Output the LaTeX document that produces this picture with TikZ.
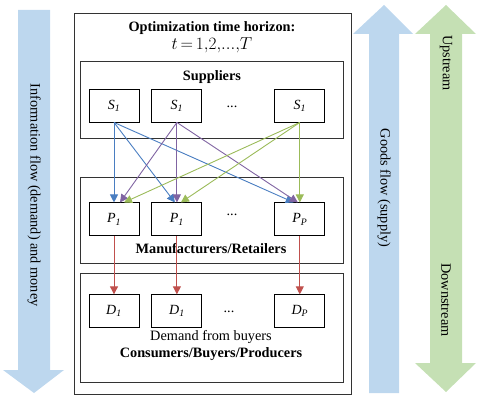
\documentclass[tikz,border=0pt]{standalone}
\usepackage{fontspec}
\setmainfont{Liberation Serif}
\usetikzlibrary{arrows.meta,positioning}

\definecolor{flowblue}{RGB}{189,215,238}
\definecolor{flowgreen}{RGB}{197,224,180}
\definecolor{lineblue}{RGB}{74,126,193}
\definecolor{linepurple}{RGB}{128,100,162}
\definecolor{linegreen}{RGB}{155,187,89}
\definecolor{linered}{RGB}{192,80,77}

\begin{document}
\begin{tikzpicture}[x=1pt, y=-1pt]
    % Styles
    \tikzstyle{unit} = [rectangle, draw, line width=0.9pt, minimum width=50pt, minimum height=33pt, inner sep=0pt, font=\fontsize{14}{16}\selectfont\itshape]
    \tikzstyle{layer} = [rectangle, draw=black!80, line width=0.6pt, inner sep=0pt, anchor=north west]
    \tikzstyle{label} = [font=\fontsize{14.3}{16}\selectfont]
    \tikzstyle{head} = [font=\fontsize{14.3}{16}\selectfont\bfseries]
    \tikzstyle{flowtext} = [rotate=-90, font=\fontsize{14.3}{16}\selectfont]
    \tikzstyle{arrow} = [line width=0.9pt, -{Triangle[length=8pt, width=8pt]}]

    \useasboundingbox (0,0) rectangle (480,401);

    % Flow arrows
    \fill[flowblue] (18,10) -- (50,10) -- (50,370) -- (64,370) -- (34,393) -- (3,370) -- (18,370) -- cycle;
    \fill[flowblue] (369,393) -- (399,393) -- (399,34) -- (413,34) -- (384,5) -- (353,34) -- (369,34) -- cycle;
    \fill[flowgreen] (430,34) -- (415,34) -- (446,5) -- (476,34) -- (462,34) -- (462,363) -- (476,363) -- (446,392) -- (415,363) -- (430,363) -- cycle;
    \node [flowtext] (info) at (34,195) {Information flow (demand) and money};
    \node [flowtext] (goods) at (384,188) {Goods flow (supply)};
    \node [flowtext] (up) at (446,63) {Upstream};
    \node [flowtext] (down) at (446,300) {Downstream};

    % Frames
    \node [layer, minimum width=277pt, minimum height=381pt] (horizon) at (74,13) {};
    \node [layer, minimum width=263pt, minimum height=77pt] (suppliers) at (80,61) {};
    \node [layer, minimum width=263pt, minimum height=86pt] (makers) at (80,177) {};
    \node [layer, minimum width=263pt, minimum height=109pt] (buyers) at (80,273) {};

    % Texts
    \node [head] (title) at (212,28) {Optimization time horizon:};
    \node [font=\fontsize{16.5}{18}\selectfont] (period) at (212,45) {$t\,{=}\,1,\!2,\!...,\!T$};
    \node [head] (suptitle) at (212,77) {Suppliers};
    \node [head] (maketitle) at (211,249) {Manufacturers/Retailers};
    \node [label] (demand) at (211,337) {Demand from buyers};
    \node [head] (buytitle) at (211,354) {Consumers/Buyers/Producers};

    % Nodes
    \node [unit] (s1) at (114,105.5) {S\textsubscript{1}};
    \node [unit, right=12pt of s1] (s2) {S\textsubscript{1}};
    \node [unit, right=72pt of s2] (s3) {S\textsubscript{1}};
    \node [unit, below=80pt of s1] (p1) {P\textsubscript{1}};
    \node [unit, below=80pt of s2] (p2) {P\textsubscript{1}};
    \node [unit, below=80pt of s3] (p3) {P\textsubscript{P}};
    \node [unit, below=58pt of p1] (d1) {D\textsubscript{1}};
    \node [unit, below=58pt of p2] (d2) {D\textsubscript{1}};
    \node [unit, below=58pt of p3] (d3) {D\textsubscript{P}};
    \node [label] (sdots) at (232,107) {...};
    \node [label] (pdots) at (232,215) {...};
    \node [label] (ddots) at (229,312) {...};

    % Arrows
    \draw [arrow, lineblue] (s1.south) -- (p1.north);
    \draw [arrow, lineblue] (s1.south) -- ([xshift=-2pt]p2.north);
    \draw [arrow, lineblue] (s1.south) -- ([xshift=-6pt]p3.north);
    \draw [arrow, linepurple] (s2.south) -- ([xshift=6pt]p1.north);
    \draw [arrow, linepurple] (s2.south) -- (p2.north);
    \draw [arrow, linepurple] (s2.south) -- ([xshift=-2pt]p3.north);
    \draw [arrow, linegreen] (s3.south) -- ([xshift=10pt]p1.north);
    \draw [arrow, linegreen] (s3.south) -- ([xshift=4pt]p2.north);
    \draw [arrow, linegreen] (s3.south) -- (p3.north);
    \draw [arrow, linered] (p1.south) -- (d1.north);
    \draw [arrow, linered] (p2.south) -- (d2.north);
    \draw [arrow, linered] (p3.south) -- (d3.north);
\end{tikzpicture}
\end{document}
